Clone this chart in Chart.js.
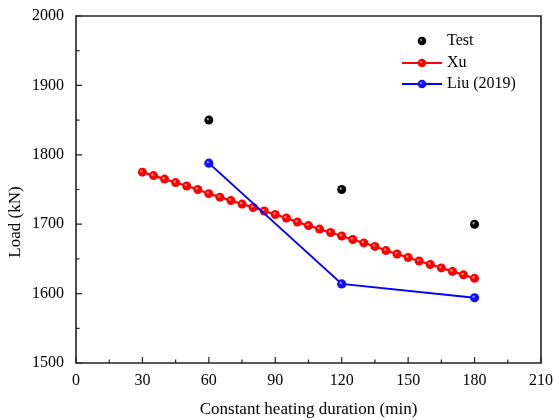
<!DOCTYPE html>
<html>
<head>
<meta charset="utf-8">
<script src="https://cdn.jsdelivr.net/npm/chart.js@4/dist/chart.umd.min.js"></script>
<style>
  body { margin: 0; background: #fff; }
  #wrap { width: 554px; height: 420px; }
</style>
</head>
<body>
<div id="wrap"><canvas id="c" width="554" height="420"></canvas></div>
<script>
// donnees
const testX = [60, 120, 180];
const testY = [1850, 1750, 1700];

const xuX = [30, 35, 40, 45, 50, 55, 60, 65, 70, 75, 80, 85, 90, 95, 100, 105,
  110, 115, 120, 125, 130, 135, 140, 145, 150, 155, 160, 165, 170, 175, 180];
const xuY = [1775, 1770, 1765, 1760, 1755, 1750, 1744, 1739, 1734, 1729, 1724,
  1719, 1714, 1709, 1703, 1698, 1693, 1688, 1683, 1678, 1673, 1668, 1662, 1657,
  1652, 1647, 1642, 1637, 1632, 1627, 1622];

const liuX = [60, 120, 180];
const liuY = [1788, 1614, 1594];

const xTicks = [0, 30, 60, 90, 120, 150, 180, 210];
const yTicks = [1500, 1600, 1700, 1800, 1900, 2000];

const FONT = '"Liberation Serif", "Times New Roman", serif';

const pts = (xs, ys) => xs.map((x, i) => ({ x: x, y: ys[i] }));

// boule avec petit reflet
function shade(c, px, py, r, base, light) {
  const g = c.createRadialGradient(px - 1.3, py - 1.3, 0, px, py, r);
  g.addColorStop(0, light);
  g.addColorStop(0.35, base);
  g.addColorStop(1, base);
  return g;
}
function ball(base, light) {
  return function (ctx) {
    const chart = ctx.chart;
    if (!chart.scales.x || !chart.scales.y || !ctx.parsed) return base;
    const px = chart.scales.x.getPixelForValue(ctx.parsed.x);
    const py = chart.scales.y.getPixelForValue(ctx.parsed.y);
    if (!isFinite(px) || !isFinite(py)) return base;
    return shade(chart.ctx, px, py, 5, base, light);
  };
}

const frame = {
  id: 'frame',
  afterDraw(chart) {
    const c = chart.ctx, a = chart.chartArea;
    const sx = chart.scales.x, sy = chart.scales.y;
    c.save();
    c.strokeStyle = '#222';
    c.lineWidth = 1.6;
    c.beginPath();
    c.moveTo(a.left, a.top); c.lineTo(a.right, a.top);
    c.lineTo(a.right, a.bottom); c.lineTo(a.left, a.bottom);
    c.closePath();
    c.stroke();
    c.lineWidth = 1.2;
    c.beginPath();
    for (let v = 0; v <= 210; v += 15) {
      const p = sx.getPixelForValue(v);
      const len = v % 30 === 0 ? 6 : 3.5;
      c.moveTo(p, a.bottom); c.lineTo(p, a.bottom - len);
    }
    for (let v = 1500; v <= 2000; v += 50) {
      const p = sy.getPixelForValue(v);
      const len = v % 100 === 0 ? 6 : 3.5;
      c.moveTo(a.left, p); c.lineTo(a.left + len, p);
    }
    c.stroke();

    // titre de l'axe y
    c.fillStyle = '#000';
    c.font = '17px ' + FONT;
    c.textAlign = 'center';
    c.textBaseline = 'middle';
    c.save();
    c.translate(16, 222);
    c.rotate(-Math.PI / 2);
    c.fillText('Load (kN)', 0, 0);
    c.restore();

    // legende
    c.font = '16px ' + FONT;
    c.textAlign = 'left';
    const items = [
      { label: 'Test', line: null, base: '#000', light: '#ddd', y: 41 },
      { label: 'Xu', line: '#ff0000', base: '#ff0000', light: '#ffd0d0', y: 63 },
      { label: 'Liu (2019)', line: '#0000ff', base: '#1010ff', light: '#c8c8ff', y: 84 }
    ];
    items.forEach(it => {
      if (it.line) {
        c.strokeStyle = it.line;
        c.lineWidth = 2;
        c.beginPath(); c.moveTo(402, it.y); c.lineTo(442, it.y); c.stroke();
      }
      c.fillStyle = shade(c, 422, it.y, 4.5, it.base, it.light);
      c.beginPath(); c.arc(422, it.y, 4.3, 0, Math.PI * 2); c.fill();
      c.fillStyle = '#000';
      c.fillText(it.label, 447, it.y);
    });
    c.restore();
  }
};

new Chart(document.getElementById('c'), {
  type: 'scatter',
  data: {
    datasets: [
      {
        label: 'Liu (2019)',
        data: pts(liuX, liuY),
        showLine: true,
        borderColor: '#0000ff',
        borderWidth: 2,
        pointRadius: 4.6,
        pointBorderWidth: 0,
        pointBackgroundColor: ball('#1010ff', '#c8c8ff')
      },
      {
        label: 'Xu',
        data: pts(xuX, xuY),
        showLine: true,
        borderColor: '#ff0000',
        borderWidth: 2.2,
        pointRadius: 4.5,
        pointBorderWidth: 0,
        pointBackgroundColor: ball('#ff0000', '#ffd0d0')
      },
      {
        label: 'Test',
        data: pts(testX, testY),
        showLine: false,
        pointRadius: 4.5,
        pointBorderWidth: 0,
        pointBackgroundColor: ball('#000', '#ddd')
      }
    ]
  },
  options: {
    responsive: false,
    animation: false,
    layout: { padding: { top: 16, right: 13, left: 0, bottom: 0 } },
    plugins: { legend: { display: false }, tooltip: { enabled: false } },
    scales: {
      x: {
        type: 'linear',
        min: 0, max: 210,
        afterBuildTicks: s => { s.ticks = xTicks.map(v => ({ value: v })); },
        afterFit: s => { s.height = 57; s.paddingLeft = 0; s.paddingRight = 0; },
        grid: { display: false, drawTicks: false },
        border: { display: false },
        ticks: { color: '#000', font: { family: FONT, size: 16 }, padding: 8, maxRotation: 0,
          callback: v => String(v) },
        title: { display: true, text: 'Constant heating duration (min)', color: '#000',
          font: { family: FONT, size: 17 }, padding: { top: 6, bottom: 0 } }
      },
      y: {
        type: 'linear',
        min: 1500, max: 2000,
        afterBuildTicks: s => { s.ticks = yTicks.map(v => ({ value: v })); },
        afterFit: s => { s.width = 76; s.paddingTop = 0; s.paddingBottom = 0; },
        grid: { display: false, drawTicks: false },
        border: { display: false },
        ticks: { color: '#000', font: { family: FONT, size: 16 }, padding: 12,
          callback: v => String(v) }
      }
    }
  },
  plugins: [frame]
});
</script>
</body>
</html>
